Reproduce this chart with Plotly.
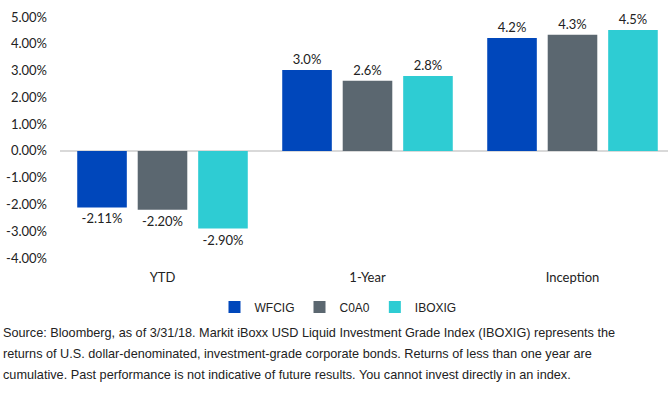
import plotly.graph_objects as go

categories = ["YTD", "1-Year", "Inception"]
series_names = ["WFCIG", "C0A0", "IBOXIG"]
wfcig = [-2.11, 3.02, 4.22]
c0a0 = [-2.20, 2.62, 4.34]
iboxig = [-2.90, 2.80, 4.51]
wfcig_lbl = ["-2.11%", "3.0%", "4.2%"]
c0a0_lbl = ["-2.20%", "2.6%", "4.3%"]
iboxig_lbl = ["-2.90%", "2.8%", "4.5%"]
tick_vals = [5, 4, 3, 2, 1, 0, -1, -2, -3, -4]
tick_text = ["5.00%", "4.00%", "3.00%", "2.00%", "1.00%", "0.00%", "-1.00%", "-2.00%", "-3.00%", "-4.00%"]
source_lines = [
    "Source: Bloomberg, as of 3/31/18. Markit iBoxx USD Liquid Investment Grade Index (IBOXIG) represents the",
    "returns of U.S. dollar-denominated, investment-grade corporate bonds. Returns of less than one year are",
    "cumulative. Past performance is not indicative of future results. You cannot invest directly in an index.",
]

colors = ["#0047BB", "#5B6770", "#2ECCD3"]
W, H = 668, 400
L, T, B = 60, 17, 142
plot_h = H - T - B
plot_w = W - L
narrow = "Liberation Sans, Arial"

fig = go.Figure()
for name, vals, lbls, col in zip(series_names, [wfcig, c0a0, iboxig], [wfcig_lbl, c0a0_lbl, iboxig_lbl], colors):
    fig.add_trace(go.Bar(
        x=categories, y=vals, name=name, marker_color=col, marker_line_width=0,
        text=lbls, texttemplate="%{text}", textposition="outside",
        textfont=dict(family="Lato", size=13, color="#222222"), cliponaxis=False,
    ))

fig.update_layout(
    width=W, height=H,
    margin=dict(l=L, r=0, t=T, b=B, autoexpand=False),
    paper_bgcolor="white", plot_bgcolor="white",
    barmode="group", bargap=0.115, bargroupgap=0.18,
    font=dict(family="Lato", size=13, color="#222222"),
    showlegend=True,
    legend=dict(orientation="h", x=(338 - L) / plot_w, xanchor="center",
                y=(H - B - 307) / plot_h, yanchor="middle",
                font=dict(family=narrow, size=12, color="#222222"),
                itemwidth=30, traceorder="normal", tracegroupgap=0),
)
fig.update_xaxes(range=[-0.5, -0.5 + plot_w / 205], showgrid=False, showline=False, zeroline=False,
                 ticks="", tickfont=dict(family="Lato", size=13, color="#222222"), ticklabelstandoff=10,
                 fixedrange=True)
fig.update_yaxes(range=[-4, 5], tickvals=tick_vals, ticktext=tick_text, showgrid=False,
                 zeroline=True, zerolinecolor="#d9d9d9", zerolinewidth=1.5, showline=False, ticks="",
                 tickfont=dict(family="Lato", size=13, color="#222222"), ticklabelstandoff=12)

for i, line in enumerate(source_lines):
    ypix = [333, 354, 375][i]
    fig.add_annotation(text=line, xref="paper", yref="paper", x=-(L - 1) / plot_w, y=(H - B - ypix) / plot_h,
                       xanchor="left", yanchor="middle", showarrow=False, align="left",
                       font=dict(family=narrow, size=12.7, color="#222222"))

fig.write_html("out.html")
